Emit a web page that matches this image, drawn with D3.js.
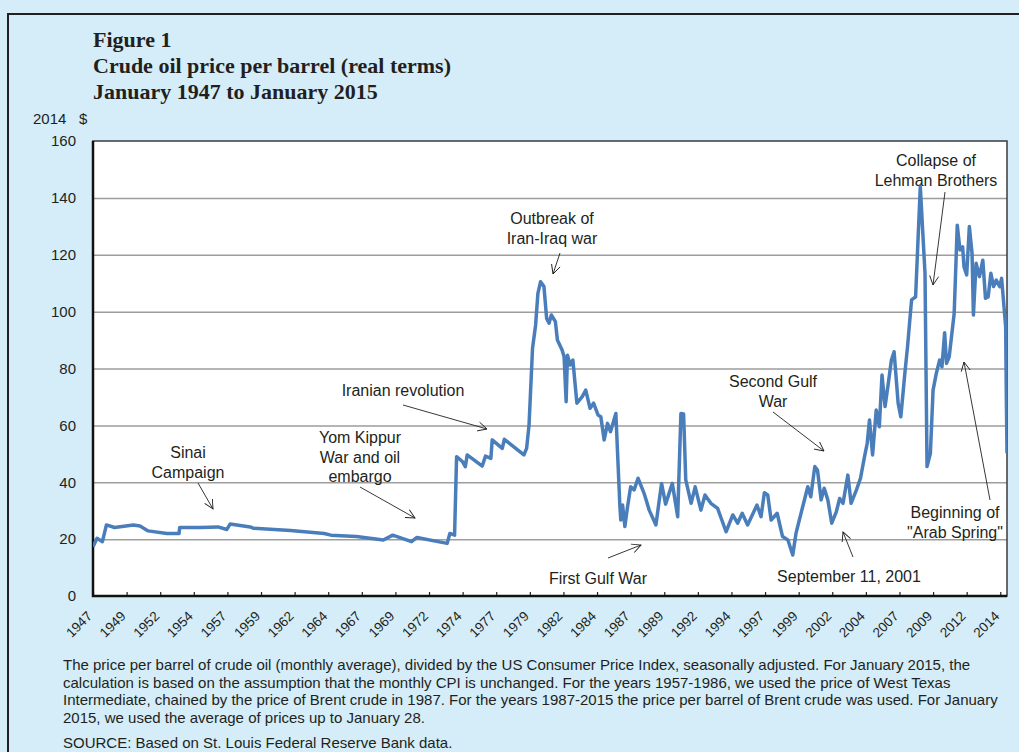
<!DOCTYPE html>
<html>
<head>
<meta charset="utf-8">
<script src="https://cdn.jsdelivr.net/npm/d3@7"></script>
<style>
  body { margin: 0; background: #d4edf9; }
  text { font-family: "Liberation Sans", Arial, sans-serif; fill: #231f20; }
  .title { font-family: "Liberation Serif", "Times New Roman", serif; font-weight: bold; font-size: 22px; }
  .ann { font-size: 16px; text-anchor: middle; }
  .note { font-size: 15px; }
</style>
</head>
<body>
<script>

// monthly real price (decimal year, 2014 $)
var months = [
  1947.0, 1947.3, 1947.7, 1948.0, 1948.6, 1950.0, 1950.5, 1951.1, 1952.5, 1953.4,
  1953.45, 1955.0, 1956.3, 1956.96, 1957.2, 1958.7, 1958.95, 1961.7, 1964.2, 1964.7,
  1966.6, 1968.6, 1969.3, 1970.7, 1971.1, 1973.35, 1973.55, 1973.9, 1974.05, 1974.5,
  1974.7, 1974.84, 1975.96, 1976.2, 1976.6, 1976.7, 1977.45, 1977.6, 1979.06, 1979.26,
  1979.44, 1979.7, 1979.93, 1980.1, 1980.3, 1980.55, 1980.75, 1980.93, 1981.1, 1981.4,
  1981.55, 1981.9, 1982.05, 1982.2, 1982.3, 1982.5, 1982.7, 1983.0, 1983.4, 1983.66,
  1983.98, 1984.24, 1984.58, 1984.78, 1985.03, 1985.28, 1985.5, 1985.9, 1986.2, 1986.27,
  1986.4, 1986.57, 1986.77, 1987.0, 1987.26, 1987.55, 1988.0, 1988.38, 1988.88, 1989.3,
  1989.6, 1990.1, 1990.5, 1990.74, 1990.94, 1991.1, 1991.5, 1991.8, 1992.23, 1992.53,
  1992.97, 1993.47, 1994.1, 1994.6, 1994.96, 1995.3, 1995.7, 1996.4, 1996.7, 1996.95,
  1997.2, 1997.45, 1997.9, 1998.3, 1998.7, 1999.06, 1999.3, 1999.8, 2000.18, 2000.4,
  2000.7, 2000.9, 2001.17, 2001.4, 2001.67, 2001.96, 2002.3, 2002.55, 2002.8, 2003.16,
  2003.4, 2003.8, 2004.1, 2004.4, 2004.6, 2004.77, 2005.0, 2005.27, 2005.5, 2005.7,
  2005.93, 2006.2, 2006.4, 2006.6, 2006.9, 2007.1, 2007.4, 2007.6, 2007.9, 2008.2,
  2008.4, 2008.55, 2008.9, 2009.05, 2009.3, 2009.5, 2009.74, 2009.99, 2010.16, 2010.36,
  2010.5, 2010.7, 2011.07, 2011.3, 2011.5, 2011.7, 2011.8, 2012.0, 2012.2, 2012.4,
  2012.5, 2012.7, 2012.95, 2013.2, 2013.4, 2013.6, 2013.8, 2014.0, 2014.2, 2014.46,
  2014.6, 2014.9, 2014.95, 2015.0
];
var prices = [
  17.3, 20.3, 19.1, 25.0, 24.1, 25.0, 24.6, 22.9, 22.0, 22.0,
  24.1, 24.1, 24.3, 23.4, 25.3, 24.3, 23.8, 23.0, 22.0, 21.4,
  20.9, 19.7, 21.4, 19.1, 20.6, 18.5, 22.0, 21.4, 49.0, 47.2,
  45.5, 49.6, 45.7, 49.2, 48.4, 54.9, 51.9, 55.1, 49.6, 51.9,
  60.1, 87.1, 95.3, 106.4, 110.5, 108.8, 97.6, 95.9, 98.8, 96.5,
  90.0, 86.5, 84.1, 68.3, 84.7, 81.2, 83.0, 67.8, 70.1, 72.4,
  66.0, 67.8, 63.6, 63.0, 54.9, 60.7, 57.8, 64.2, 31.4, 26.7,
  32.0, 24.4, 31.4, 38.4, 37.3, 41.4, 36.1, 30.2, 25.0, 39.6,
  32.3, 39.6, 27.9, 64.2, 64.0, 40.8, 32.6, 38.4, 30.2, 35.5,
  32.6, 30.8, 22.6, 28.5, 25.6, 29.1, 25.0, 32.0, 27.9, 36.3,
  35.5, 26.7, 29.1, 20.9, 19.7, 14.4, 22.0, 31.4, 38.4, 34.9,
  45.5, 44.3, 33.8, 37.9, 33.8, 25.6, 29.6, 34.3, 32.6, 42.5,
  32.6, 37.3, 41.4, 49.0, 53.7, 61.9, 49.6, 65.4, 59.5, 77.7,
  66.6, 75.9, 83.0, 85.9, 67.8, 63.0, 78.3, 87.7, 104.1, 105.2,
  127.5, 143.9, 113.5, 45.5, 50.2, 72.4, 78.3, 83.0, 80.6, 92.6,
  81.8, 84.1, 99.4, 130.4, 121.7, 122.8, 115.8, 112.9, 129.9, 120.5,
  98.8, 117.0, 112.3, 118.1, 104.7, 105.2, 113.5, 108.8, 111.1, 108.8,
  111.7, 94.7, 70.0, 50.2
];

var yTicks = [0, 20, 40, 60, 80, 100, 120, 140, 160];
var xTickLabels = ["1947", "1949", "1952", "1954", "1957", "1959", "1962", "1964", "1967",
  "1969", "1972", "1974", "1977", "1979", "1982", "1984", "1987", "1989", "1992", "1994",
  "1997", "1999", "2002", "2004", "2007", "2009", "2012", "2014"];

var titleLines = ["Figure 1", "Crude oil price per barrel (real terms)", "January 1947 to January 2015"];
var unitLabel = ["2014", "$"];
var noteLines = [
  "The price per barrel of crude oil (monthly average), divided by the US Consumer Price Index, seasonally adjusted. For January 2015, the",
  "calculation is based on the assumption that the monthly CPI is unchanged. For the years 1957-1986, we used the price of West Texas",
  "Intermediate, chained by the price of Brent crude in 1987. For the years 1987-2015 the price per barrel of Brent crude was used. For January",
  "2015, we used the average of prices up to January 28."
];
var sourceLine = "SOURCE: Based on St. Louis Federal Reserve Bank data.";

var eventLabels = [
  ["Sinai", "Campaign"],
  ["Yom Kippur", "War and oil", "embargo"],
  ["Iranian revolution"],
  ["Outbreak of", "Iran-Iraq war"],
  ["First Gulf War"],
  ["Second Gulf", "War"],
  ["September 11, 2001"],
  ["Collapse of", "Lehman Brothers"],
  ["Beginning of", "\"Arab Spring\""]
];

// where each label and its arrow sit on the page (text centre/baseline, arrow from -> to)
var eventLayout = [
  {tx: 188, ty: 458, ax1: 198, ay1: 483, ax2: 213, ay2: 509},
  {tx: 360, ty: 443, ax1: 360, ay1: 487, ax2: 415, ay2: 518},
  {tx: 403, ty: 396, ax1: 403, ay1: 405, ax2: 487, ay2: 429},
  {tx: 552, ty: 224, ax1: 560, ay1: 253, ax2: 553, ay2: 274},
  {tx: 598, ty: 584, ax1: 608, ay1: 558, ax2: 641, ay2: 545},
  {tx: 773, ty: 387, ax1: 773, ay1: 412, ax2: 824, ay2: 451},
  {tx: 849, ty: 582, ax1: 853, ay1: 557, ax2: 843, ay2: 532},
  {tx: 936, ty: 166, ax1: 945, ay1: 192, ax2: 933, ay2: 285},
  {tx: 955, ty: 518, ax1: 990, ay1: 500, ax2: 964, ay2: 362}
];

var W = 1019, H = 752;
var margin = {top: 141, left: 93},
    width = 914,
    height = 455;

var svg = d3.select("body").append("svg")
  .attr("width", W)
  .attr("height", H);

// light blue panel with its frame
svg.append("rect")
  .attr("width", W).attr("height", H)
  .attr("fill", "#d4edf9");
svg.append("rect")
  .attr("x", 8).attr("y", 14)
  .attr("width", 1100).attr("height", 800)
  .attr("fill", "none")
  .attr("stroke", "#231f20")
  .attr("stroke-width", 2);

// titles
svg.selectAll(".title").data(titleLines).enter().append("text")
  .attr("class", "title")
  .attr("x", margin.left)
  .attr("y", function(d, i) { return 47 + i * 26; })
  .text(function(d) { return d; });

svg.append("text").attr("x", 33).attr("y", 124).style("font-size", "15px").text(unitLabel[0]);
svg.append("text").attr("x", 79).attr("y", 124).style("font-size", "15px").text(unitLabel[1]);

var g = svg.append("g")
  .attr("transform", "translate(" + margin.left + "," + margin.top + ")");

var x = d3.scaleLinear().domain([1947, 2015]).range([0, width]);
var y = d3.scaleLinear().domain([0, 160]).range([height, 0]);

g.append("rect")
  .attr("width", width).attr("height", height)
  .attr("fill", "#fff");

// gridlines
g.append("g")
  .call(d3.axisLeft(y).tickValues(yTicks.slice(1, -1)).tickSize(-width).tickFormat(""))
  .call(function(s) { s.select(".domain").remove(); })
  .selectAll("line")
    .attr("stroke", "#9d9d9d")
    .attr("stroke-width", 1.5);

// y labels
g.selectAll(".ylab").data(yTicks).enter().append("text")
  .attr("class", "ylab")
  .attr("x", -17)
  .attr("y", function(d) { return y(d); })
  .attr("dy", "0.35em")
  .attr("text-anchor", "end")
  .style("font-size", "15px")
  .text(function(d) { return d; });

// x ticks every 30 months, pointing into the plot
var xTickVals = xTickLabels.map(function(d, i) { return 1947 + i * 2.5; });
g.append("g")
  .attr("transform", "translate(0," + height + ")")
  .call(d3.axisBottom(x).tickValues(xTickVals).tickSize(-4).tickFormat(""))
  .call(function(s) { s.select(".domain").remove(); })
  .selectAll("line")
    .attr("stroke", "#231f20")
    .attr("stroke-width", 1.2);

g.selectAll(".xlab").data(xTickVals).enter().append("text")
  .attr("class", "xlab")
  .attr("transform", function(d) { return "translate(" + x(d) + "," + (height + 21) + ") rotate(-45)"; })
  .attr("text-anchor", "end")
  .style("font-size", "13.5px")
  .text(function(d, i) { return xTickLabels[i]; });

// plot frame
g.append("rect")
  .attr("width", width).attr("height", height)
  .attr("fill", "none")
  .attr("stroke", "#3a3a3a")
  .attr("stroke-width", 1.5);
g.append("path")
  .attr("d", "M0,0V" + height + "H" + width)
  .attr("fill", "none")
  .attr("stroke", "#111")
  .attr("stroke-width", 2.5);

// the price line
g.append("clipPath").attr("id", "clip")
  .append("rect").attr("width", width).attr("height", height);

var line = d3.line()
  .x(function(d, i) { return x(months[i]); })
  .y(function(d) { return y(d); });

g.append("path")
  .datum(prices)
  .attr("clip-path", "url(#clip)")
  .attr("fill", "none")
  .attr("stroke", "#4a7ebb")
  .attr("stroke-width", 3.5)
  .attr("stroke-linejoin", "round")
  .attr("d", line);

// event labels with arrows
svg.append("defs").append("marker")
  .attr("id", "head")
  .attr("viewBox", "-10 -6 12 12")
  .attr("refX", 0).attr("refY", 0)
  .attr("markerWidth", 12).attr("markerHeight", 12)
  .attr("markerUnits", "userSpaceOnUse")
  .attr("orient", "auto")
  .append("path")
    .attr("d", "M-9,-4.5L0,0L-9,4.5")
    .attr("fill", "none")
    .attr("stroke", "#231f20")
    .attr("stroke-width", 0.9);

eventLabels.forEach(function(lines, k) {
  var p = eventLayout[k];
  var t = svg.append("text").attr("class", "ann");
  lines.forEach(function(s, j) {
    t.append("tspan")
      .attr("x", p.tx)
      .attr("y", p.ty + j * 19.5)
      .text(s);
  });
  svg.append("line")
    .attr("x1", p.ax1).attr("y1", p.ay1)
    .attr("x2", p.ax2).attr("y2", p.ay2)
    .attr("stroke", "#231f20")
    .attr("stroke-width", 0.9)
    .attr("marker-end", "url(#head)");
});

// footnote
svg.selectAll(".note").data(noteLines).enter().append("text")
  .attr("class", "note")
  .attr("x", 63)
  .attr("y", function(d, i) { return 670 + i * 17.7; })
  .text(function(d) { return d; });
svg.append("text")
  .attr("class", "note")
  .attr("x", 63)
  .attr("y", 748)
  .text(sourceLine);

</script>
</body>
</html>
